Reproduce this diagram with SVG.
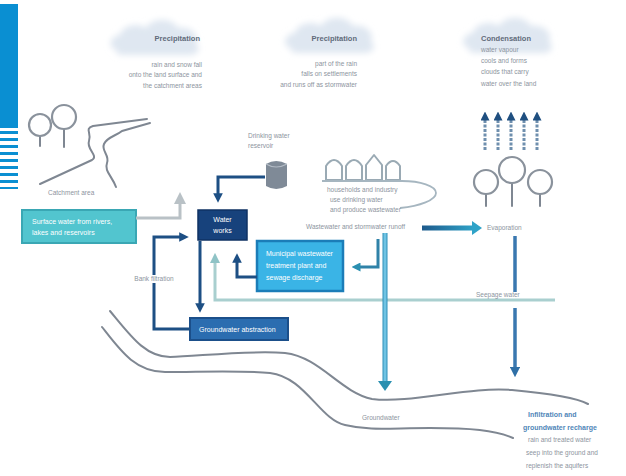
<svg xmlns="http://www.w3.org/2000/svg" width="626" height="476" viewBox="0 0 626 476">
  <defs>
    <style>
      .lbl { font-family: "Liberation Sans", Arial, sans-serif; font-size: 6.5px; fill: #8c949e; }
      .cl { font-family: "Liberation Sans", Arial, sans-serif; font-size: 7.5px; font-weight: bold; fill: #5f6b7a; }
      .bx { font-family: "Liberation Sans", Arial, sans-serif; font-size: 7px; fill: #ffffff; }
      .bl { font-family: "Liberation Sans", Arial, sans-serif; font-size: 7px; font-weight: bold; fill: #4f86b8; }
      .gl { fill: none; stroke: #7f8792; stroke-width: 2; stroke-linecap: round; stroke-linejoin: round; }
      .tree { fill: #ffffff; stroke: #8a929c; stroke-width: 2.2; }
      .nav { fill: none; stroke: #1d4f84; stroke-width: 3; }
      .mid { fill: none; stroke: #3a78b0; stroke-width: 3.5; }
      .lt { fill: none; stroke: #a9cfcf; stroke-width: 3; }
      .cloud { fill: #dfe7f1; filter: url(#soft); }
    </style>
    <filter id="soft" x="-30%" y="-30%" width="160%" height="160%">
      <feGaussianBlur stdDeviation="3"/>
    </filter>
    <linearGradient id="evapGrad" x1="0" y1="0" x2="1" y2="0">
      <stop offset="0" stop-color="#1d5a8c"/>
      <stop offset="1" stop-color="#2fa3c8"/>
    </linearGradient>
    <linearGradient id="downGrad" x1="0" y1="0" x2="1" y2="0">
      <stop offset="0" stop-color="#2e8fb8"/>
      <stop offset="0.5" stop-color="#7fd0ee"/>
      <stop offset="1" stop-color="#2e8fb8"/>
    </linearGradient>
    <marker id="ahNav" viewBox="0 0 10 10" refX="5" refY="5" markerWidth="3.2" markerHeight="3.2" orient="auto">
      <path d="M0,0 L10,5 L0,10 z" fill="#1d4f84"/>
    </marker>
    <marker id="ahMid" viewBox="0 0 10 10" refX="5" refY="5" markerWidth="3" markerHeight="3" orient="auto">
      <path d="M0,0 L10,5 L0,10 z" fill="#2f6fa6"/>
    </marker>
    <marker id="ahTeal" viewBox="0 0 10 10" refX="5" refY="5" markerWidth="3" markerHeight="3" orient="auto">
      <path d="M0,0 L10,5 L0,10 z" fill="#2a8fb0"/>
    </marker>
    <marker id="ahLt" viewBox="0 0 10 10" refX="5" refY="5" markerWidth="3.4" markerHeight="3.4" orient="auto">
      <path d="M0,0 L10,5 L0,10 z" fill="#8fc3c6"/>
    </marker>
    <marker id="ahGrey" viewBox="0 0 10 10" refX="5" refY="5" markerWidth="4" markerHeight="4" orient="auto">
      <path d="M0,0 L10,5 L0,10 z" fill="#b9c1c6"/>
    </marker>
    <marker id="ahEvap" viewBox="0 0 10 10" refX="5" refY="5" markerWidth="3" markerHeight="3" orient="auto">
      <path d="M0,0 L10,5 L0,10 z" fill="#1f4f80"/>
    </marker>
  </defs>

  <rect width="626" height="476" fill="#ffffff"/>

  <!-- side bar -->
  <g id="sidebar">
    <rect x="0" y="4" width="18" height="124" fill="#0a8fd2"/>
    <g fill="#0a8fd2">
      <rect x="0" y="131" width="18" height="3"/>
      <rect x="0" y="138" width="18" height="3"/>
      <rect x="0" y="145" width="18" height="3"/>
      <rect x="0" y="152" width="18" height="3"/>
      <rect x="0" y="159" width="18" height="3"/>
      <rect x="0" y="166" width="18" height="3"/>
      <rect x="0" y="173" width="18" height="3"/>
      <rect x="0" y="180" width="18" height="3"/>
      <rect x="0" y="187" width="18" height="2"/>
    </g>
  </g>

  <!-- clouds -->
  <g id="cloud1">
    <path class="cloud" d="M118,50 C108,50 108,36 120,35 C122,25 138,22 146,28 C152,17 172,17 178,28 C190,26 200,34 196,44 C202,48 198,55 190,55 L122,55 C116,55 115,52 118,50 z"/>
    <text class="cl" x="200" y="41" text-anchor="end">Precipitation</text>
    <text class="lbl" x="202" y="67" text-anchor="end">rain and snow fall</text>
    <text class="lbl" x="202" y="77" text-anchor="end">onto the land surface and</text>
    <text class="lbl" x="202" y="88" text-anchor="end">the catchment areas</text>
  </g>
  <g id="cloud2">
    <path class="cloud" d="M292,48 C282,48 283,34 295,33 C297,23 313,20 321,26 C327,15 347,15 353,26 C365,24 375,32 371,42 C377,46 373,53 365,53 L297,53 C291,53 290,50 292,48 z"/>
    <text class="cl" x="357" y="41" text-anchor="end">Precipitation</text>
    <text class="lbl" x="357" y="66" text-anchor="end">part of the rain</text>
    <text class="lbl" x="357" y="76" text-anchor="end">falls on settlements</text>
    <text class="lbl" x="357" y="87" text-anchor="end">and runs off as stormwater</text>
  </g>
  <g id="cloud3">
    <path class="cloud" d="M470,48 C460,48 461,34 473,33 C475,23 491,20 499,26 C505,15 525,15 531,26 C543,24 553,32 549,42 C555,46 551,53 543,53 L475,53 C469,53 468,50 470,48 z"/>
    <text class="cl" x="481" y="41">Condensation</text>
    <text class="lbl" x="481" y="52">water vapour</text>
    <text class="lbl" x="481" y="63">cools and forms</text>
    <text class="lbl" x="481" y="74">clouds that carry</text>
    <text class="lbl" x="481" y="86">water over the land</text>
  </g>

  <!-- catchment: hills and trees -->
  <g id="catchment">
    <line class="gl" x1="40" y1="128" x2="40" y2="146"/>
    <line class="gl" x1="64" y1="122" x2="64" y2="147"/>
    <circle class="tree" cx="40" cy="125" r="11"/>
    <circle class="tree" cx="64" cy="117" r="12"/>
    <path class="gl" d="M40,184 L92,160 C99,156 86,149 89,141 C92,133 84,129 93,126 L147,119"/>
    <path class="gl" d="M116,187 C112,176 104,171 107,163 C110,155 101,151 104,144 C107,137 116,136 122,131 L150,123"/>
    <text class="lbl" x="48" y="195">Catchment area</text>
  </g>

  <!-- drinking water reservoir -->
  <g id="reservoir">
    <text class="lbl" x="248" y="138">Drinking water</text>
    <text class="lbl" x="248" y="148">reservoir</text>
    <path d="M266,164 Q276,158 287,164 L287,186 Q276,192 266,186 z" fill="#7f8a97"/>
    <path d="M266,164 Q276,170 287,164" fill="none" stroke="#b4bcc6" stroke-width="1.2"/>
  </g>

  <!-- boxes -->
  <g id="surfacewater">
    <rect x="22" y="210" width="114" height="33" fill="#52c5cf" stroke="#3aa7b4" stroke-width="2"/>
    <text class="bx" x="32" y="224">Surface water from rivers,</text>
    <text class="bx" x="32" y="235">lakes and reservoirs</text>
  </g>
  <g id="waterworks">
    <rect x="198" y="210" width="49" height="30" fill="#17427c" stroke="#0f3263" stroke-width="1.5"/>
    <text class="bx" x="222.5" y="222" text-anchor="middle">Water</text>
    <text class="bx" x="222.5" y="233" text-anchor="middle">works</text>
  </g>
  <g id="treatment">
    <rect x="257" y="241" width="86" height="50" fill="#3ab4e6" stroke="#1b7db8" stroke-width="2.5"/>
    <text class="bx" x="266" y="256">Municipal wastewater</text>
    <text class="bx" x="266" y="268">treatment plant and</text>
    <text class="bx" x="266" y="280">sewage discharge</text>
  </g>
  <g id="groundwaterwell">
    <rect x="190" y="318" width="98" height="22" fill="#2b6db0" stroke="#1b4f8a" stroke-width="2"/>
    <text class="bx" x="199" y="332">Groundwater abstraction</text>
  </g>

  <!-- settlement -->
  <g id="settlement">
    <g fill="#ffffff" stroke="#9aaab4" stroke-width="2" stroke-linejoin="round">
      <path d="M326,180 L326,166 Q334,154 342,166 L342,180 z"/>
      <path d="M346,180 L346,166 Q354,154 362,166 L362,180 z"/>
      <path d="M366,180 L366,165 L374,155 L382,165 L382,180 z"/>
      <path d="M386,180 L386,166 Q393,156 400,166 L400,180 z"/>
    </g>
    <path d="M322,181 L402,181 C420,181 436,186 436,193 C436,200 420,206 400,208" fill="none" stroke="#a6b6c0" stroke-width="1.8"/>
    <text class="lbl" x="327" y="192">households and industry</text>
    <text class="lbl" x="330" y="202">use drinking water</text>
    <text class="lbl" x="330" y="212">and produce wastewater</text>
    <text class="lbl" x="306" y="229">Wastewater and stormwater runoff</text>
  </g>

  <!-- forest -->
  <g id="forest">
    <g stroke="#6f8fae" stroke-width="3" stroke-dasharray="3 1.5" marker-end="url(#ahEvap)">
      <line x1="485" y1="150" x2="485" y2="116"/>
      <line x1="498" y1="150" x2="498" y2="116"/>
      <line x1="511" y1="150" x2="511" y2="116"/>
      <line x1="524" y1="150" x2="524" y2="116"/>
      <line x1="537" y1="150" x2="537" y2="116"/>
    </g>
    <line class="gl" x1="486" y1="190" x2="486" y2="206"/>
    <line class="gl" x1="512" y1="180" x2="512" y2="206"/>
    <line class="gl" x1="540" y1="190" x2="540" y2="206"/>
    <circle class="tree" cx="486" cy="182" r="12"/>
    <circle class="tree" cx="512" cy="170" r="13"/>
    <circle class="tree" cx="540" cy="182" r="12"/>
    <text class="lbl" x="487" y="230">Evaporation</text>
  </g>

  <!-- river and ground -->
  <g id="river">
    <path class="gl" d="M110,311 C130,335 145,357 170,357 C200,356 250,350 285,353 C320,357 340,392 372,399 C410,404 470,386 512,390 C545,393 575,397 588,404"/>
    <path class="gl" d="M102,327 C120,350 135,372 165,372 C200,372 240,370 270,373 C305,377 320,420 345,425 C370,431 390,428 430,428 C470,428 495,430 513,438"/>
    <text class="lbl" x="362" y="420">Groundwater</text>
  </g>
  <g id="recharge">
    <text class="bl" x="528" y="417">Infiltration and</text>
    <text class="bl" x="523" y="430">groundwater recharge</text>
    <text class="lbl" x="528" y="442">rain and treated water</text>
    <text class="lbl" x="526" y="455">seep into the ground and</text>
    <text class="lbl" x="526" y="468">replenish the aquifers</text>
  </g>

  <!-- connectors -->
  <g id="connectors">
    <!-- surface water intake -->
    <path d="M136,218 L180,218 L180,198" fill="none" stroke="#b9c1c6" stroke-width="3" marker-end="url(#ahGrey)"/>
    <!-- reservoir to water works -->
    <path class="nav" d="M265,177 L218,177 L218,198" marker-end="url(#ahNav)"/>
    <!-- water works to groundwater abstraction -->
    <path class="nav" d="M200,241 L200,308" marker-end="url(#ahNav)"/>
    <!-- bank filtration loop -->
    <path class="nav" d="M190,329 L154,329 L154,237 L184,237" marker-end="url(#ahNav)"/>
    <rect x="126" y="275" width="56" height="8" fill="#ffffff"/>
    <text class="lbl" x="154" y="281" text-anchor="middle">Bank filtration</text>
    <!-- treatment plant return -->
    <path class="nav" d="M257,277 L237,277 L237,258" stroke="#1f6fa8" marker-end="url(#ahNav)"/>
    <!-- light return line -->
    <path class="lt" d="M555,300 L215,300 L215,258" marker-end="url(#ahLt)"/>
    <text class="lbl" x="476" y="297">Seepage water</text>
    <!-- wastewater to treatment -->
    <path d="M378,239 L378,267 L356,267" fill="none" stroke="#2f82a8" stroke-width="3" marker-end="url(#ahTeal)"/>
    <!-- runoff into river -->
    <rect x="382.5" y="233" width="5" height="150" fill="url(#downGrad)"/>
    <path d="M378,381 L392,381 L385,391 z" fill="#2a8fb0"/>
    <!-- evaporation arrow -->
    <rect x="422" y="225.5" width="52" height="5" fill="url(#evapGrad)"/>
    <path d="M472,221 L482,228 L472,235 z" fill="#2fa3c8"/>
    <!-- forest to groundwater -->
    <path class="mid" d="M515,236 L515,292"/>
    <path class="mid" d="M515,308 L515,372" marker-end="url(#ahMid)"/>
  </g>
</svg>
